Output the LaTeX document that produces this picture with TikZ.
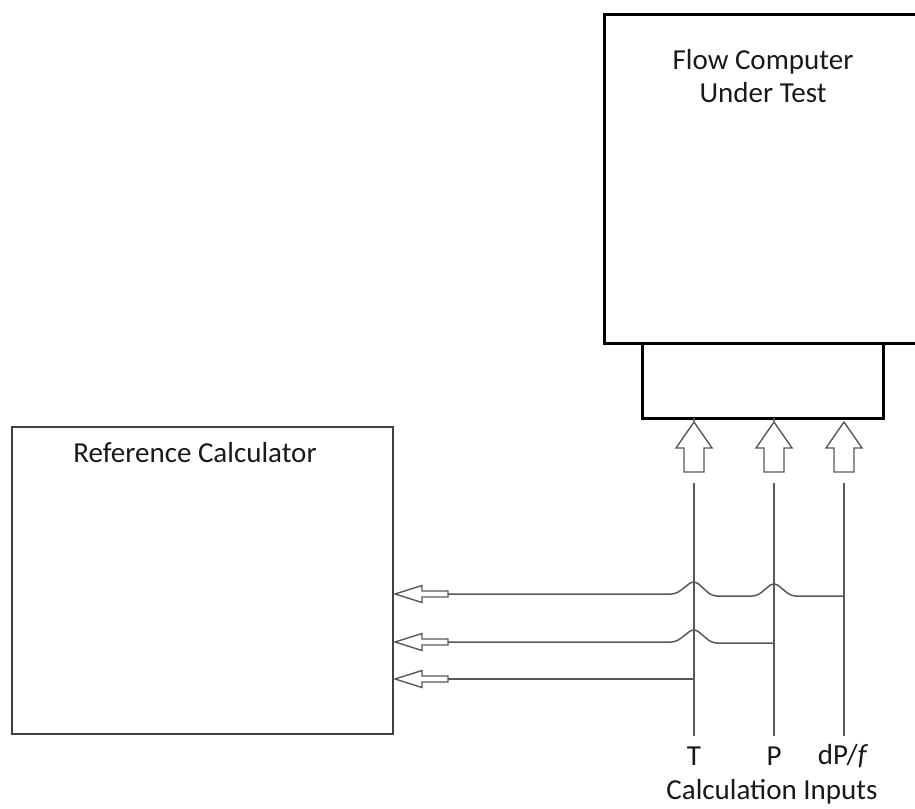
\documentclass[tikz,border=0pt]{standalone}
\usepackage{fontspec}
\setmainfont{Carlito}
\begin{document}
\begin{tikzpicture}[x=1pt,y=-1pt,
  thickbox/.style={draw=black,line width=3pt,inner sep=0pt,anchor=north west},
  thinbox/.style={draw=black!75,line width=1.6pt,inner sep=0pt,anchor=north west},
  wire/.style={draw=black!65,line width=1.5pt,rounded corners=5pt},
  blockarr/.style={draw=black!65,line width=1.4pt,fill=white,line join=miter},
  lbl/.style={font=\fontsize{29}{33}\selectfont,text=black!90,align=center,inner sep=0pt}]
\useasboundingbox (0,0) rectangle (915,808);
% boxes
\node[thickbox,minimum width=318pt,minimum height=329pt] (fc) at (603,13) {};
\node[thickbox,minimum width=241pt,minimum height=75pt] (io) at (641,342) {};
\node[thinbox,minimum width=381pt,minimum height=307pt] (rc) at (11,426) {};
\node[lbl] (fctext) at (763,76) {Flow Computer\\Under Test};
\node[lbl] (rctext) at (195,453) {Reference Calculator};
% up block arrows
\foreach \n/\x in {T/694,P/774,D/844}{
  \coordinate (tip\n) at (\x,422);
  \draw[blockarr] (tip\n) -- ++(18,26) -- ++(-8,0) -- ++(0,24) -- ++(-20,0) -- ++(0,-24) -- ++(-8,0) -- cycle;
  \coordinate (top\n) at (\x,483);
  \coordinate (bot\n) at (\x,736);
  \draw[black!65,line width=1.5pt] (top\n) -- (bot\n);
}
% short stubs under the input box
\draw[black!65,line width=1.5pt] (694,418) -- (694,421);
\draw[black!65,line width=1.5pt] (774,418) -- (774,421);
% left block arrows
\foreach \n/\y in {A/594,B/642,C/679}{
  \coordinate (ltip\n) at (395,\y);
  \draw[blockarr] (ltip\n) -- ++(27,-8.5) -- ++(0,5.5) -- ++(26,0) -- ++(0,6) -- ++(-26,0) -- ++(0,5.5) -- cycle;
  \coordinate (lend\n) at (448,\y);
}
% horizontal wires with crossover humps
\draw[wire] (lendA) -- (676,594) -- (694,580) -- (712,596) -- (757,596) -- (774,582) -- (791,596) -- (844,596);
\draw[wire] (lendB) -- (676,642) -- (694,628) -- (712,643) -- (774,643);
\draw[black!65,line width=1.5pt] (lendC) -- (694,679);
% labels
\node[lbl] (lT) at (694,756) {T};
\node[lbl] (lP) at (774,756) {P};
\node[lbl] (lD) at (843,756) {dP/\textit{f}};
\node[lbl] (lCI) at (772,792) {Calculation Inputs};
\end{tikzpicture}
\end{document}
